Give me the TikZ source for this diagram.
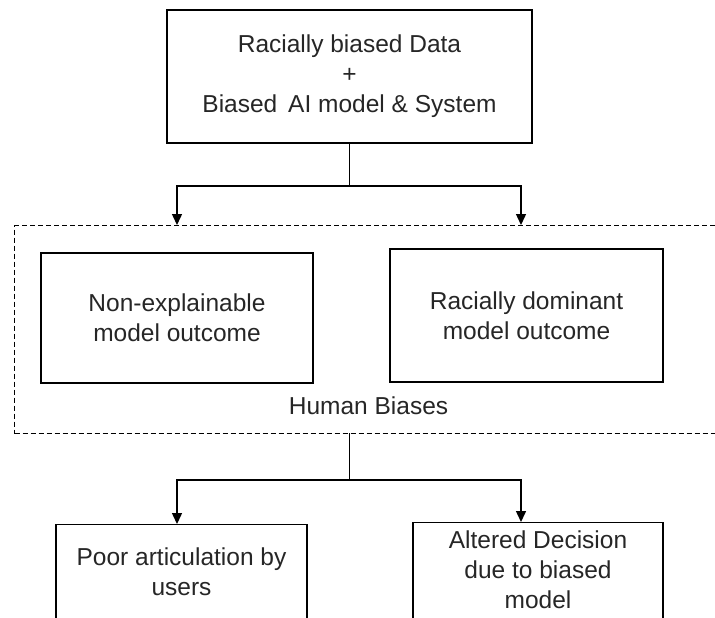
\documentclass[tikz,border=0pt]{standalone}
\usepackage{fontspec}
\setmainfont{Liberation Sans}
\usetikzlibrary{arrows.meta,positioning}
\tikzset{
  box/.style={draw, line width=0.7pt, inner sep=0pt, align=center,
    font=\fontsize{12.25}{15}\selectfont, text=black!85},
  dashbox/.style={draw, dash pattern=on 2.5pt off 1.5pt, line width=0.6pt, inner sep=0pt},
  txt/.style={inner sep=0pt, align=center, font=\fontsize{12.25}{15}\selectfont, text=black!85},
  link/.style={line width=0.7pt},
  arr/.style={-{Triangle[length=5.5pt,width=5pt]}, line width=0.7pt},
}
\begin{document}
\begin{tikzpicture}[x=0.5pt,y=-0.5pt]
      \useasboundingbox (0,0) rectangle (715,617);
      \clip (0,0) rectangle (715,617);
      \node[box, minimum width=182.5pt, minimum height=66.5pt] (data) at (349.5,76.5)
        {Racially biased Data\\+\\Biased \,AI model \& System};
      \node[dashbox, minimum width=365pt, minimum height=104pt, anchor=north west] (human) at (14,225) {};
      \node[box, minimum width=136pt, minimum height=65pt] (nonexp) at (177,318) {Non-explainable\\model outcome};
      \node[box, minimum width=136.5pt, minimum height=66.5pt] (dominant) at (526.5,315.5) {Racially dominant\\model outcome};
      \node[txt] (biases) at (368.5,406) {Human Biases};
      \node[box, minimum width=125.5pt, minimum height=70pt, anchor=north] (poor) at (181.5,524) {};
      \node[txt, anchor=north] (poortxt) at (181.5,547) {Poor articulation by\\users};
      \node[box, minimum width=125pt, minimum height=70pt, anchor=north] (altered) at (538,522) {};
      \node[txt, anchor=north] (alteredtxt) at (538,530) {Altered Decision\\due to biased\\model};
      \coordinate (fork1) at (349.5,186);
      \coordinate (inL) at (177,225);
      \coordinate (inR) at (521,225);
      \coordinate (out) at (349.5,433);
      \coordinate (fork2) at (349.5,480);
      \coordinate (outL) at (177,524);
      \coordinate (outR) at (521,522);
      \begin{scope}[link]
        \draw (data.south) to (fork1);
        \draw (out) to (fork2);
      \end{scope}
      \begin{scope}[arr]
        \draw (fork1) -| (inL);
        \draw (fork1) -| (inR);
        \draw (fork2) -| (outL);
        \draw (fork2) -| (outR);
      \end{scope}
    \end{tikzpicture}
\end{document}
